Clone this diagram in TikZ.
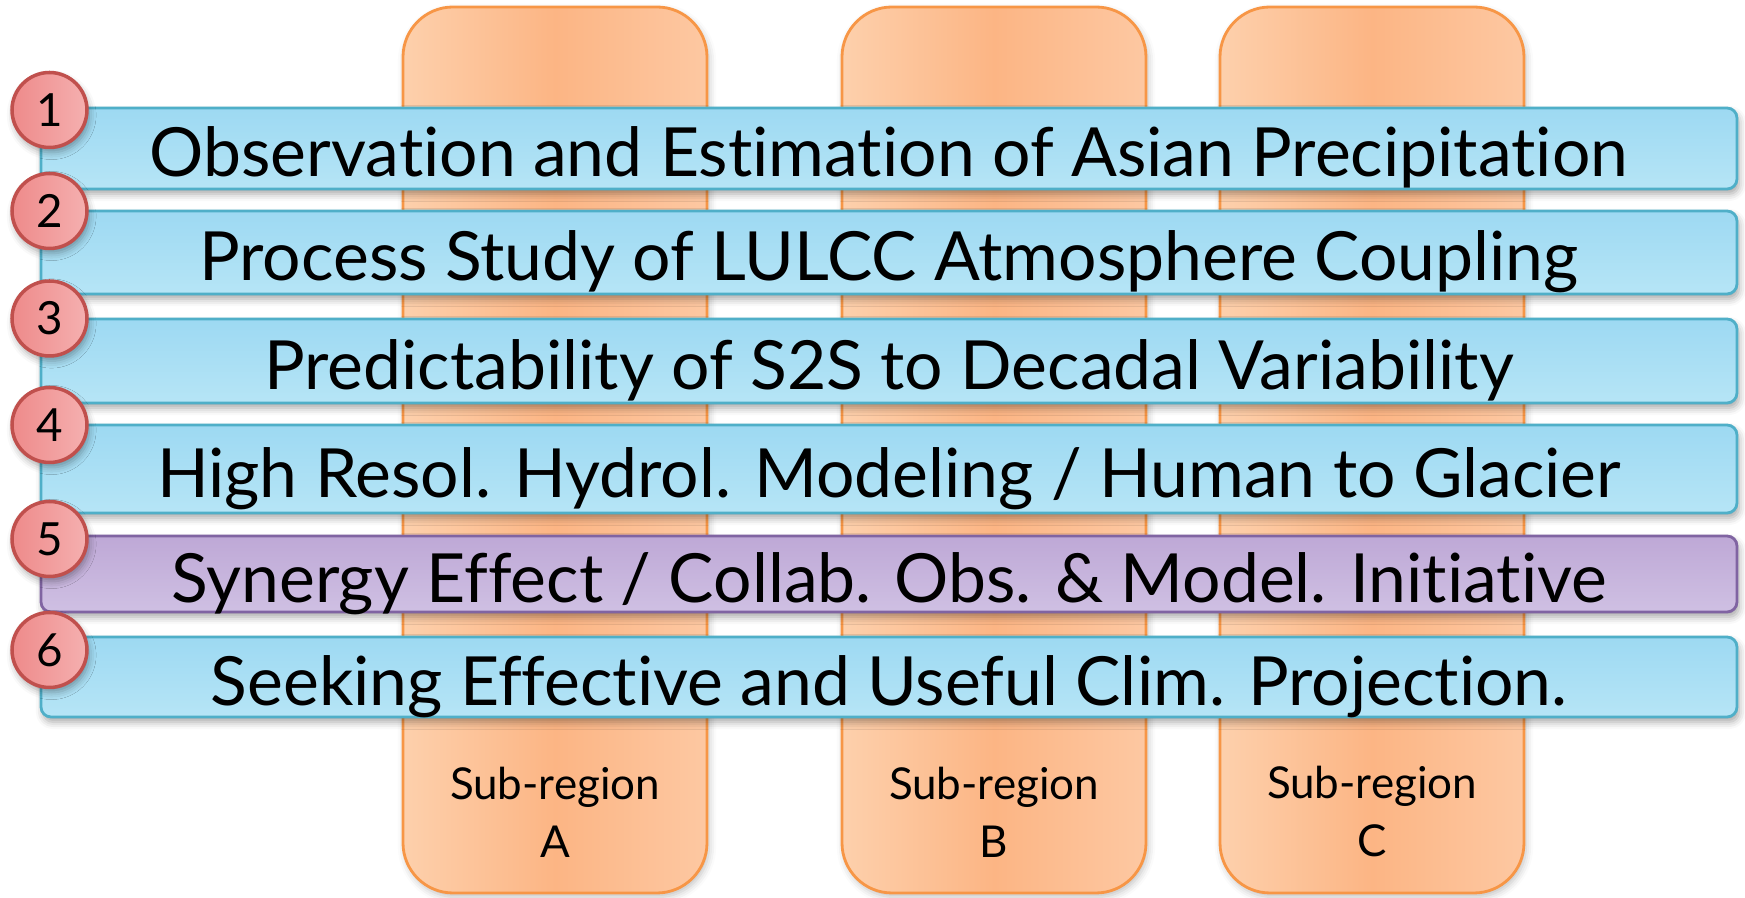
\documentclass[tikz,border=0pt]{standalone}
\usepackage{fontspec}
\setmainfont{Lato}[Ligatures=NoCommon]
\usepackage{tikz}
\usetikzlibrary{positioning,shadows.blur}

\definecolor{regionEdge}{HTML}{F79646}
\definecolor{regionLight}{HTML}{FDD0AC}
\definecolor{regionMid}{HTML}{FCB584}
\definecolor{regionRight}{HTML}{FDC8A2}
\definecolor{barEdge}{HTML}{4FAFC8}
\definecolor{barTop}{HTML}{9DD9F2}
\definecolor{barBottom}{HTML}{B6E5F6}
\definecolor{synEdge}{HTML}{8064A2}
\definecolor{synTop}{HTML}{BEA8D6}
\definecolor{synBottom}{HTML}{CFC0E3}
\definecolor{numEdge}{HTML}{C0504D}
\definecolor{numLeft}{HTML}{EE8A8A}
\definecolor{numRight}{HTML}{F5B0B0}

\begin{document}
\begin{tikzpicture}[
	% Define a style for the sub-region columns
	region/.style={draw=regionEdge, line width=0.8pt, rounded corners=0.5cm,
		left color=regionLight, right color=regionRight, middle color=regionMid,
		minimum width=3.04cm, minimum height=8.86cm,
		blur shadow={shadow xshift=0.02cm, shadow yshift=-0.04cm, shadow opacity=25}},
	region label/.style={align=center, font=\fontsize{12.5}{16.5}\selectfont},
	% Style for the research topic bars
	topic/.style={draw=barEdge, line width=0.8pt, rounded corners=0.1cm,
		top color=barTop, bottom color=barBottom,
		minimum width=16.96cm, inner sep=0pt,
		text height=0.57cm, text depth=0pt,
		font=\fontsize{19.3}{23}\selectfont,
		blur shadow={shadow xshift=0.02cm, shadow yshift=-0.05cm, shadow opacity=35}},
	synergy/.style={topic, draw=synEdge, top color=synTop, bottom color=synBottom},
	% Style for the numbered circles
	number/.style={circle, draw=numEdge, line width=1pt,
		left color=numLeft, right color=numRight,
		minimum size=0.75cm, inner sep=0pt,
		font=\fontsize{13}{15}\selectfont,
		blur shadow={shadow xshift=0.02cm, shadow yshift=-0.05cm, shadow opacity=35}}
	]
	
	\useasboundingbox (0,0) rectangle (17.45,8.98);
	
	% --- Sub-region columns ---
	\node[region] (regA) at (5.55,4.48) {};
	\node[region] (regB) at (9.94,4.48) {};
	\node[region] (regC) at (13.72,4.48) {};
	
	\node[region label] (labA) at (5.55,0.86) {Sub-region\\A};
	\node[region label] (labB) at (9.94,0.86) {Sub-region\\B};
	\node[region label] (labC) at (13.72,0.86) {Sub-region\\C};
	
	% --- Topic bars ---
	\node[topic, minimum height=0.81cm] (bar1) at (8.89,7.495) {Observation and Estimation of Asian Precipitation};
	\node[topic, minimum height=0.83cm] (bar2) at (8.89,6.455) {Process Study of LULCC Atmosphere Coupling};
	\node[topic, minimum height=0.84cm] (bar3) at (8.89,5.37) {Predictability of S2S to Decadal Variability};
	\node[topic, minimum height=0.88cm] (bar4) at (8.89,4.29) {High Resol. Hydrol. Modeling / Human to Glacier};
	\node[synergy, minimum height=0.76cm] (bar5) at (8.89,3.24) {Synergy Effect / Collab. Obs. \& Model. Initiative};
	\node[topic, minimum height=0.80cm] (bar6) at (8.89,2.21) {Seeking Effective and Useful Clim. Projection.};
	
	% --- Numbers ---
	\node[number] (num1) at (0.495,7.88) {1};
	\node[number] (num2) at (0.495,6.87) {2};
	\node[number] (num3) at (0.495,5.795) {3};
	\node[number] (num4) at (0.495,4.73) {4};
	\node[number] (num5) at (0.495,3.59) {5};
	\node[number] (num6) at (0.495,2.48) {6};
\end{tikzpicture}
\end{document}
